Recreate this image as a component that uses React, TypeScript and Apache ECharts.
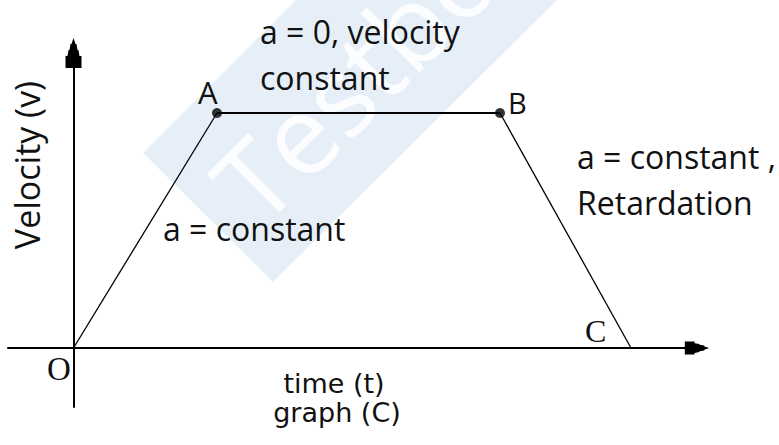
import React, { useEffect, useRef } from "react";
import * as echarts from "echarts";

// Data (time in arbitrary units, velocity in arbitrary units)
const pointNames = ["O", "A", "B", "C"];
const timeValues = [0, 14.35, 42.65, 55.75];
const velocityValues = [0, 23.5, 23.5, 0];
const timeRange = [-6.55, 62.35];
const velocityRange = [-5.9, 29.5];

const SANS = "'Open Sans', 'Noto Sans', sans-serif";
const WIDE = "'DejaVu Sans', 'Open Sans', sans-serif";
const SERIF = "'Liberation Serif', 'DejaVu Serif', serif";
const ARROW = "path://M8,0 L10,6 L11,6 L12,12 L13,12 L14,18 L16,18 L16,30 L0,30 L0,18 L2,18 L3,12 L4,12 L5,6 L6,6 Z";

const pt = (i: number) => [timeValues[i], velocityValues[i]];

export default function App() {
  const ref = useRef<HTMLDivElement>(null);
  useEffect(() => {
    if (!ref.current) return;
    const chart = echarts.init(ref.current, undefined, { renderer: "svg" });
    const txt = (text: string, x: number, y: number, size: number, opts: any = {}) => ({
      type: "text",
      x,
      y,
      z: 10,
      rotation: opts.rotation || 0,
      style: {
        text,
        fontSize: size,
        fontFamily: opts.family || SANS,
        fill: "#111",
        textAlign: opts.align || "left",
        textVerticalAlign: "middle",
      },
    });
    chart.setOption({
      animation: false,
      backgroundColor: "#fff",
      grid: { left: 8, top: 53, width: 689, height: 354, containLabel: false },
      xAxis: {
        type: "value",
        min: timeRange[0],
        max: timeRange[1],
        z: 5,
        axisLine: {
          show: true,
          onZero: true,
          symbol: ["none", ARROW],
          symbolSize: [13, 30],
          lineStyle: { color: "#000", width: 2 },
        },
        axisTick: { show: false },
        axisLabel: { show: false },
        splitLine: { show: false },
      },
      yAxis: {
        type: "value",
        min: velocityRange[0],
        max: velocityRange[1],
        z: 5,
        axisLine: {
          show: true,
          onZero: true,
          symbol: ["none", ARROW],
          symbolSize: [16, 30],
          lineStyle: { color: "#000", width: 2 },
        },
        axisTick: { show: false },
        axisLabel: { show: false },
        splitLine: { show: false },
      },
      series: [
        {
          name: "acceleration",
          type: "line",
          z: 6,
          symbol: "none",
          data: [pt(0), pt(1)],
          lineStyle: { color: "#000", width: 1.3 },
        },
        {
          name: "constant",
          type: "line",
          z: 6,
          symbol: "none",
          data: [pt(1), pt(2)],
          lineStyle: { color: "#000", width: 2 },
        },
        {
          name: "retardation",
          type: "line",
          z: 6,
          symbol: "none",
          data: [pt(2), pt(3)],
          lineStyle: { color: "#000", width: 1.3 },
        },
        {
          name: "points",
          type: "scatter",
          z: 7,
          symbolSize: 10,
          itemStyle: { color: "#000" },
          data: [pt(1), pt(2)],
        },
      ],
      graphic: [
        {
          type: "polygon",
          z: 0,
          shape: { points: [[143, 153], [296, 0], [557, 0], [273, 282]] },
          style: { fill: "#e6eff8" },
        },
        {
          type: "text",
          z: 1,
          x: 231,
          y: 200,
          rotation: Math.PI / 4,
          style: {
            text: "Testbook",
            fontSize: 110,
            fontFamily: SANS,
            fill: "rgba(255,255,255,0.85)",
            textAlign: "left",
            textVerticalAlign: "middle",
          },
        },
        txt("a = 0, velocity", 260, 31, 32),
        txt("constant", 260, 77, 32),
        txt(pointNames[1], 198, 92, 31),
        txt(pointNames[2], 508, 102, 29),
        txt("a = constant", 163, 228, 32),
        txt("a = constant ,", 577, 156, 32),
        txt("Retardation", 577, 202, 32),
        txt(pointNames[3], 585, 331, 32, { family: SERIF }),
        txt(pointNames[0], 47, 369, 33, { family: SERIF }),
        txt("time (t)", 334, 383, 27, { align: "center", family: WIDE }),
        txt("graph (C)", 337, 412, 27, { align: "center", family: WIDE }),
        txt("Velocity (v)", 27, 165, 34, { align: "center", rotation: Math.PI / 2 }),
      ],
    });
    return () => chart.dispose();
  }, []);
  return (
    <div
      ref={ref}
      style={{ position: "fixed", left: 0, top: 0, width: 779, height: 445, background: "#fff" }}
    />
  );
}
